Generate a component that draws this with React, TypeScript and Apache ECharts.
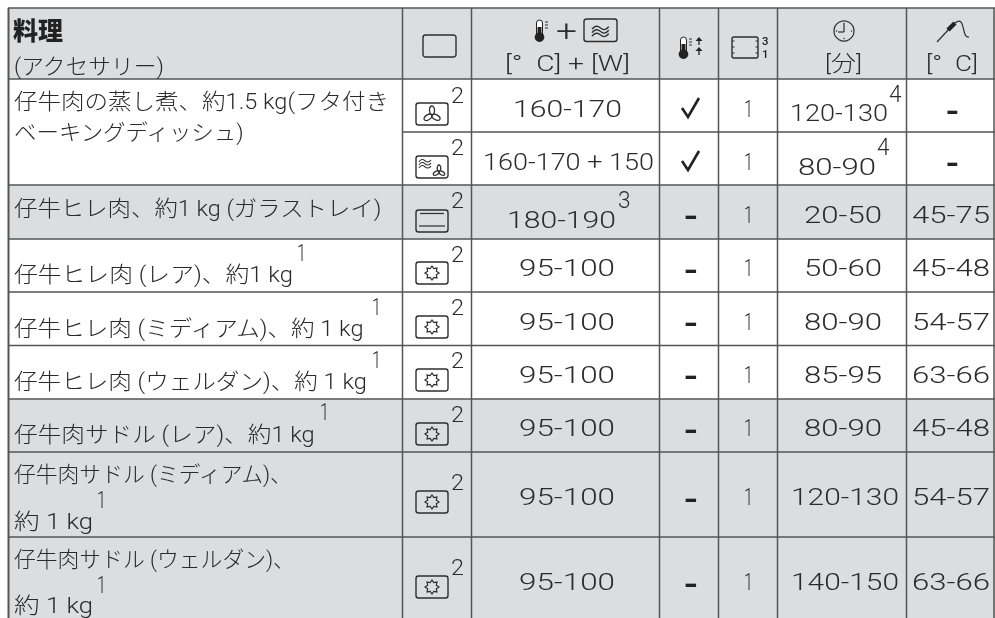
import React, { useEffect, useRef } from "react";
import * as echarts from "echarts";

// ---------- table content ----------
const headerDish = ["料理", "(アクセサリー)"];
const headerTemp = "[°  C] + [W]";
const headerTime = "[分]";
const headerProbe = "[°  C]";
const dishLines = [
  ["仔牛肉の蒸し煮、約1.5 kg(フタ付き", "ベーキングディッシュ)"],
  ["仔牛ヒレ肉、約1 kg (ガラストレイ)"],
  ["仔牛ヒレ肉 (レア)、約1 kg"],
  ["仔牛ヒレ肉 (ミディアム)、約 1 kg"],
  ["仔牛ヒレ肉 (ウェルダン)、約 1 kg"],
  ["仔牛肉サドル (レア)、約1 kg"],
  ["仔牛肉サドル (ミディアム)、", "約 1 kg"],
  ["仔牛肉サドル (ウェルダン)、", "約 1 kg"],
];
const modes = ["fan", "wavefan", "tray", "star", "star", "star", "star", "star", "star"];
const temps = ["160-170", "160-170 + 150", "180-190", "95-100", "95-100", "95-100", "95-100", "95-100", "95-100"];
const preheat = ["✓", "✓", "-", "-", "-", "-", "-", "-", "-"];
const levels = ["1", "1", "1", "1", "1", "1", "1", "1", "1"];
const times = ["120-130", "80-90", "20-50", "50-60", "80-90", "85-95", "80-90", "120-130", "140-150"];
const probes = ["-", "-", "45-75", "45-48", "54-57", "63-66", "45-48", "54-57", "63-66"];

// ---------- layout ----------
const W = 995, H = 618;
const vLines = [8.5, 402.5, 471.5, 659.5, 718.5, 777.5, 906.5, 994];
const hLines = [8, 79, 132, 185, 239, 292, 345.5, 399, 452, 537];
const greyBands = [[8, 79], [185, 239], [399, 618]];
const modeTop = [103, 156, 210, 262, 316, 369, 423, 491, 576];
const supY = [94.5, 147, 200, 254, 307, 360, 414, 482, 567];
const valueY = [108, 161, 214, 267, 321, 374, 427, 496, 581];
const dashY = [109, 161, 215, 269, 322, 375, 429, 498, 583];
const dishY = [[100, 131], [207], [273], [327], [380], [433], [473, 520], [558, 604]];
const dishW = [[375, 232], [368], [279], [353], [353], [301], [281, 79], [281, 79]];
const dishSup = [null, null, [297, 253], [372, 307], [372, 360], [320, 412], [97, 500], [97, 585]];

const TEXT = "#2b2b2b";
const LINE = "#555555";
const GREY = "#dcddde";
const FONT = "Roboto, 'Noto Sans CJK JP'";
const NUM = 23;

const ctx = document.createElement("canvas").getContext("2d")!;
function T(text: string, x: number, y: number, width: number, size = 22, weight: any = 300, color = TEXT) {
  ctx.font = `${weight} ${size}px ${FONT}`;
  const m = ctx.measureText(text).width || 1;
  return {
    type: "text", x, y: y + 1.5, scaleX: width / m, silent: true,
    style: { text, x: 0, y: 0, fill: color, font: `${weight} ${size}px ${FONT}`, textAlign: "left", textVerticalAlign: "middle" },
  };
}
const S = { fill: "none", stroke: "#2e2e2e", lineWidth: 1 };
const rrect = (x: number, y: number, w: number, h: number, r = 2.5, lw = 1.4) => ({
  type: "rect", shape: { x, y, width: w, height: h, r }, style: { ...S, lineWidth: lw },
});
const seg = (x1: number, y1: number, x2: number, y2: number, lw = 1, c = "#2e2e2e") => ({
  type: "line", shape: { x1, y1, x2, y2 }, style: { stroke: c, lineWidth: lw },
});
function fan(cx: number, cy: number, k = 1) {
  return [0, (2 * Math.PI) / 3, (-2 * Math.PI) / 3].map((rotation) => ({
    type: "ellipse", x: cx, y: cy, rotation,
    shape: { cx: 0, cy: -4.6 * k, rx: 2.5 * k, ry: 4.4 * k }, style: { ...S, lineWidth: 1.3 },
  }));
}
function star(cx: number, cy: number) {
  const pts: number[][] = [];
  for (let i = 0; i < 16; i++) {
    const r = i % 2 ? 4.7 : 7;
    const a = (i * Math.PI) / 8;
    pts.push([cx + r * Math.sin(a), cy - r * Math.cos(a)]);
  }
  return { type: "polygon", shape: { points: pts }, style: { ...S, lineWidth: 1.2 } };
}
const waves = (x: number, y: number, sx: number, sy: number, gap: number) =>
  [0, 1, 2].map((i) => ({
    type: "wave", x, y: y + i * gap, scaleX: sx, scaleY: sy,
    style: { ...S, lineWidth: 1.1 },
  }));
function thermo(x: number, y: number, h = 22) {
  return [
    { type: "rect", shape: { x: x + 1.5, y, width: 6, height: h - 5, r: 3 }, style: { fill: "#fff", stroke: "#222", lineWidth: 1 } },
    { type: "rect", shape: { x: x + 2.5, y: y + 7, width: 4, height: h - 10 }, style: { fill: "#222" } },
    { type: "circle", shape: { cx: x + 4.5, cy: y + h - 4.8, r: 4.8 }, style: { fill: "#222" } },
    seg(x + 10, y + 2, x + 13, y + 2), seg(x + 10, y + 5, x + 13, y + 5), seg(x + 10, y + 8, x + 13, y + 8),
  ];
}

export default function App() {
  const ref = useRef<HTMLDivElement>(null);
  useEffect(() => {
    echarts.graphic.registerShape("wave", echarts.graphic.extendPath("M0 3 C2 0 4 0 6 2 C8 4 10 4 12 1", {}) as any);
    const chart = echarts.init(ref.current!, null, { renderer: "svg", width: W, height: H });
    const el: any[] = [];
    greyBands.forEach(([a, b]) =>
      el.push({ type: "rect", shape: { x: 8, y: a, width: W - 8, height: b - a }, style: { fill: GREY } })
    );
    hLines.forEach((y) => el.push(seg(y === 132 ? 402.5 : 8, y, W, y, 1.5, LINE)));
    vLines.forEach((x, i) => el.push(seg(x, 8, x, H, i === 0 ? 2 : 1.5, LINE)));

    // header
    el.push(T(headerDish[0], 13, 30, 50, 25, 900, "#222"));
    el.push(T(headerDish[1], 14, 65, 151));
    el.push(rrect(423, 35, 33, 22));
    el.push(...thermo(535, 20));
    el.push(T("+", 556, 29, 21, 30));
    el.push(rrect(584, 19, 33, 22.5));
    el.push(...waves(592, 25.5, 1.4, 1.2, 3.5));
    el.push(T(headerTemp, 505, 62, 125));
    el.push(...thermo(679, 37));
    [37, 47].forEach((y) => {
      el.push({ type: "polygon", shape: { points: [[699, y], [695.5, y + 4], [702.5, y + 4]] }, style: { fill: "#222" } });
      el.push(seg(699, y + 3, 699, y + 8, 1.3, "#222"));
    });
    el.push(rrect(732, 37, 26, 21, 2));
    [41, 47, 53].forEach((y) => {
      el.push(seg(732, y, 734.5, y), seg(755.5, y, 758, y));
    });
    el.push(T("3", 762, 40, 6.5, 11, 500, "#222"));
    el.push(T("1", 762, 53, 6.5, 11, 500, "#222"));
    el.push({ type: "circle", shape: { cx: 844, cy: 31, r: 10 }, style: { ...S, lineWidth: 1.2 } });
    el.push(seg(844, 24, 844, 32, 1.2), seg(838, 32, 844, 32, 1.2));
    [[844, 23.5], [844, 38.5], [836.5, 31], [851.5, 31]].forEach(([cx, cy]) =>
      el.push({ type: "circle", shape: { cx, cy, r: 0.7 }, style: { fill: "#2e2e2e" } })
    );
    el.push(T(headerTime, 825, 62, 37));
    el.push(T(headerProbe, 926, 62, 52));
    el.push(seg(937, 42, 950, 28, 1.2));
    el.push(seg(948, 30, 955, 23, 4.5, "#222"));
    el.push({ type: "bezierCurve", shape: { x1: 955, y1: 23, cpx1: 966, cpy1: 14, cpx2: 961, cpy2: 39, x2: 969, y2: 37 }, style: { ...S, lineWidth: 1.2 } });

    // first column
    dishLines.forEach((lines, i) => {
      lines.forEach((s, j) => el.push(T(s, 14, dishY[i][j], dishW[i][j])));
      const sp = dishSup[i];
      if (sp) el.push(T("1", sp[0], sp[1] - 1, 9, NUM));
    });

    // other columns, one row at a time
    modes.forEach((m, i) => {
      const top = modeTop[i];
      el.push(rrect(416, top, 32, 22));
      const cy = top + 11;
      if (m === "fan") el.push(...fan(432, cy + 1));
      if (m === "wavefan") {
        el.push(...waves(419, top + 3, 1, 0.9, 3));
        el.push(...fan(439, cy + 4.5, 0.72));
      }
      if (m === "tray") el.push(seg(420, top + 3.5, 444, top + 3.5, 1.2), seg(419, top + 16, 445, top + 16, 1.2));
      if (m === "star") el.push(star(432, cy));
      el.push(T("2", 451, supY[i] - 1, 13, NUM));

      const t = temps[i];
      const tw = t.length > 7 ? 171 : t === "95-100" ? 96 : 109;
      const tx = t.length > 7 ? 483 : t === "95-100" ? 519 : t === "180-190" ? 507 : 513;
      el.push(T(t, tx, t === "180-190" ? 219 : valueY[i], tw, NUM));
      if (t === "180-190") el.push(T("3", 618, supY[i] - 1, 12.5, NUM));

      if (preheat[i] === "✓") {
        const y = valueY[i] - 10;
        el.push({ type: "polyline", shape: { points: [[682, y + 10], [688, y + 19], [699, y]] }, style: { ...S, stroke: "#222", lineWidth: 2.6 } });
      } else {
        el.push(T(preheat[i], 683, dashY[i], 16, 26, 900, "#222"));
      }
      el.push(T(levels[i], 744, valueY[i], 9, NUM));

      const c = times[i];
      const cy2 = i === 0 ? 112 : i === 1 ? 166 : valueY[i];
      const long = c.length === 7;
      const cx2 = long ? (i === 0 ? 790 : 791) : i === 1 ? 798 : 804;
      el.push(T(c, cx2, cy2, long ? (i === 0 ? 98 : 108) : 78, NUM));
      if (i === 0) el.push(T("4", 889, 93, 12.5, NUM));
      if (i === 1) el.push(T("4", 877, 146, 12.5, NUM));

      if (probes[i] === "-") el.push(T(probes[i], 945, dashY[i], 15, 26, 900, "#222"));
      else el.push(T(probes[i], 912, valueY[i], 78, NUM));
    });

    chart.setOption({ animation: false, graphic: { elements: el } });
    return () => chart.dispose();
  }, []);
  return <div ref={ref} style={{ position: "fixed", left: 0, top: 0, width: W, height: H, filter: "blur(0.35px)" }} />;
}
